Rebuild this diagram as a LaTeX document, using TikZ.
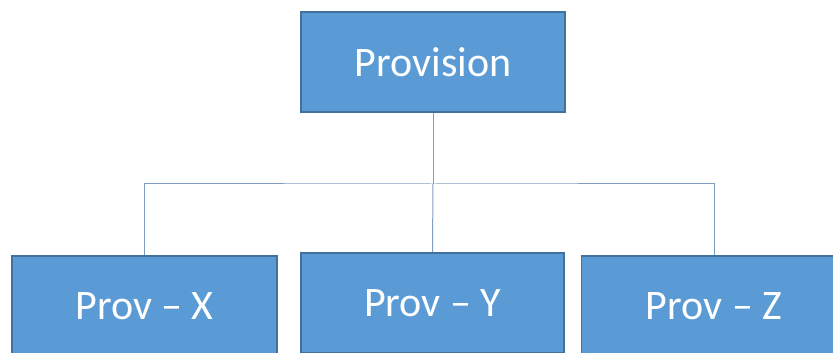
\documentclass[tikz,border=0pt]{standalone}
\usepackage{fontspec}
\setmainfont{Carlito}
\usetikzlibrary{positioning}
\definecolor{provFill}{HTML}{5B9BD5}
\definecolor{provBorde}{HTML}{41719C}
\definecolor{provLinea}{HTML}{809FC0}

\begin{document}
\begin{tikzpicture}[x=1pt, y=1pt,
      caja/.style={draw=provBorde, line width=1.5pt, fill=provFill,
                   minimum height=100pt, text=white, inner sep=0pt,
                   font=\fontsize{42}{48}\selectfont},
      conn/.style={draw=provLinea, line width=1pt}]
    \useasboundingbox (0,0) rectangle (833,353);
    \clip (0,0) rectangle (833,353);
    \node[caja, minimum width=264pt] (prov)  at (433,291)   {Provision};
    \node[caja, minimum width=265pt] (provX) at (144.5,47)  {Prov -- X};
    \node[caja, minimum width=263pt] (provY) at (432.5,50)  {Prov -- Y};
    \node[caja, minimum width=265pt] (provZ) at (714,47)    {Prov -- Z};
    \draw[conn] (prov.south) -- (prov.south |- 0,169) coordinate (bus);
    \draw[conn] (provX.north) |- (bus) -| (provZ.north);
    \draw[conn] (bus) -- (provY.north);
  \end{tikzpicture}
\end{document}
